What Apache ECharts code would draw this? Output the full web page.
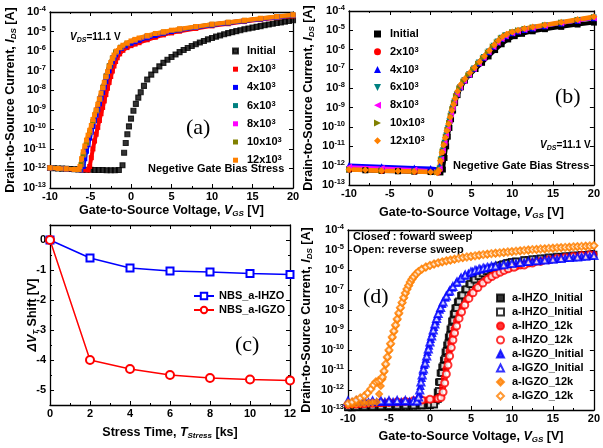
<!DOCTYPE html>
<html>
<head>
<meta charset="utf-8">
<script src="https://cdn.jsdelivr.net/npm/echarts@6/dist/echarts.min.js"></script>
<style>
  html, body { margin: 0; padding: 0; background: #fff; }
  #chart { width: 603px; height: 448px; }
</style>
</head>
<body>
<div id="chart"></div>
<script>
// values are [V_GS, log10(I_DS)]
// ---- panel (a) ----
const aInit = [[-10,-11.98],[-9.5,-11.99],[-9,-12.0],[-8.5,-12.01],[-8,-12.02],[-7.5,-12.03],[-7,-12.04],[-6.5,-12.05],[-6,-12.06],[-5.5,-12.07],[-5,-12.07],[-4.5,-12.08],[-4,-12.08],[-3.5,-12.08],[-3,-12.09],[-2.5,-12.09],[-2,-12.09],[-1.5,-12.08],[-1.05,-11.84],[-0.85,-11.2],[-0.65,-10.7],[-0.45,-10.25],[-0.25,-9.85],[0,-9.45],[0.3,-9.05],[0.6,-8.7],[0.9,-8.38],[1.2,-8.1],[1.6,-7.78],[2,-7.45],[2.5,-7.2],[3,-6.98],[3.5,-6.78],[4,-6.6],[4.5,-6.44],[5,-6.3],[5.5,-6.17],[6,-6.05],[6.5,-5.94],[7,-5.84],[7.5,-5.74],[8,-5.65],[8.5,-5.56],[9,-5.48],[9.5,-5.4],[10,-5.33],[10.5,-5.26],[11,-5.2],[11.5,-5.14],[12,-5.08],[12.5,-5.03],[13,-4.98],[13.5,-4.93],[14,-4.88],[14.5,-4.84],[15,-4.8],[15.5,-4.76],[16,-4.72],[16.5,-4.68],[17,-4.64],[17.5,-4.6],[18,-4.56],[18.5,-4.53],[19,-4.49],[19.5,-4.46],[20,-4.42]];
const a2k = [[-10,-11.97],[-8,-12.03],[-6,-12.07],[-5.3,-12.08],[-5.1,-11.9],[-4.9,-11.45],[-4.7,-11.0],[-4.5,-10.6],[-4.3,-10.25],[-4.1,-9.9],[-3.9,-9.55],[-3.7,-9.2],[-3.5,-8.88],[-3.3,-8.55],[-3.1,-8.22],[-2.9,-7.9],[-2.7,-7.6],[-2.5,-7.3],[-2.3,-7.02],[-2.1,-6.76],[-1.9,-6.53],[-1.7,-6.34],[-1.4,-6.14],[-1,-5.96],[-0.5,-5.82],[0,-5.72],[0.5,-5.64],[1,-5.57],[2,-5.42],[3,-5.29],[4,-5.17],[5,-5.07],[6,-4.98],[8,-4.84],[10,-4.71],[12,-4.6],[14,-4.49],[16,-4.39],[18,-4.29],[20,-4.2]];
const a4k = [[-10,-11.97],[-8,-12.03],[-6.2,-12.07],[-5.9,-11.9],[-5.7,-11.5],[-5.5,-11.12],[-5.3,-10.78],[-5.1,-10.45],[-4.9,-10.15],[-4.7,-9.85],[-4.5,-9.55],[-4.3,-9.27],[-4.1,-8.98],[-3.9,-8.7],[-3.7,-8.4],[-3.5,-8.12],[-3.3,-7.84],[-3.1,-7.56],[-2.9,-7.28],[-2.7,-7.01],[-2.5,-6.76],[-2.3,-6.54],[-2.1,-6.35],[-1.9,-6.19],[-1.6,-6.02],[-1.2,-5.86],[-0.7,-5.73],[0,-5.6],[0.5,-5.52],[1,-5.45],[2,-5.32],[3,-5.2],[4,-5.09],[5,-5.0],[6,-4.92],[8,-4.79],[10,-4.67],[12,-4.56],[14,-4.46],[16,-4.36],[18,-4.27],[20,-4.18]];
const a6k = [[-10,-11.97],[-8,-12.02],[-6.3,-12.06],[-6.05,-11.8],[-5.8,-11.3],[-5.4,-10.7],[-5.0,-10.15],[-4.6,-9.6],[-4.2,-9.05],[-3.8,-8.45],[-3.4,-7.85],[-3.0,-7.27],[-2.6,-6.75],[-2.2,-6.35],[-1.8,-6.06],[-1.2,-5.82],[-0.4,-5.62],[0.5,-5.46],[2,-5.26],[4,-5.06],[6,-4.9],[8,-4.77],[10,-4.65],[12,-4.55],[14,-4.45],[16,-4.35],[18,-4.26],[20,-4.17]];
const a8k = [[-10,-11.97],[-8,-12.02],[-6.35,-12.06],[-6.1,-11.8],[-5.85,-11.3],[-5.45,-10.7],[-5.05,-10.15],[-4.65,-9.6],[-4.25,-9.05],[-3.85,-8.45],[-3.45,-7.85],[-3.05,-7.27],[-2.65,-6.75],[-2.25,-6.35],[-1.85,-6.05],[-1.25,-5.81],[-0.45,-5.61],[0.5,-5.44],[2,-5.24],[4,-5.05],[6,-4.89],[8,-4.76],[10,-4.64],[12,-4.54],[14,-4.44],[16,-4.34],[18,-4.25],[20,-4.16]];
const a10k = [[-10,-11.97],[-8,-12.02],[-6.4,-12.06],[-6.15,-11.8],[-5.9,-11.3],[-5.5,-10.7],[-5.1,-10.15],[-4.7,-9.6],[-4.3,-9.05],[-3.9,-8.45],[-3.5,-7.85],[-3.1,-7.27],[-2.7,-6.75],[-2.3,-6.35],[-1.9,-6.04],[-1.3,-5.8],[-0.5,-5.6],[0.5,-5.42],[2,-5.22],[4,-5.03],[6,-4.88],[8,-4.75],[10,-4.63],[12,-4.53],[14,-4.43],[16,-4.33],[18,-4.24],[20,-4.15]];
const a12k = [[-10,-11.97],[-9,-12.0],[-8,-12.02],[-7,-12.05],[-6.5,-12.05],[-6.3,-11.9],[-6.1,-11.5],[-5.9,-11.15],[-5.7,-10.85],[-5.5,-10.55],[-5.3,-10.3],[-5.1,-10.05],[-4.9,-9.8],[-4.7,-9.5],[-4.5,-9.25],[-4.3,-9.0],[-4.1,-8.72],[-3.9,-8.45],[-3.7,-8.15],[-3.5,-7.88],[-3.3,-7.6],[-3.1,-7.32],[-2.9,-7.05],[-2.7,-6.8],[-2.5,-6.58],[-2.3,-6.38],[-2.1,-6.2],[-1.8,-6.0],[-1.4,-5.83],[-1,-5.7],[-0.5,-5.58],[0,-5.48],[0.5,-5.4],[1,-5.33],[2,-5.2],[3,-5.1],[4,-5.01],[5,-4.93],[6,-4.86],[8,-4.74],[10,-4.62],[12,-4.52],[14,-4.42],[16,-4.32],[18,-4.23],[20,-4.14]];

// ---- panel (b) ----
const bInit = [[-10,-12.2],[-8,-12.24],[-6,-12.27],[-4,-12.29],[-2,-12.31],[0,-12.33],[1.2,-12.35],[1.5,-12.2],[1.7,-11.6],[1.9,-11.0],[2.1,-10.5],[2.3,-10.05],[2.5,-9.6],[2.75,-9.15],[3,-8.75],[3.3,-8.35],[3.7,-7.95],[4.2,-7.6],[4.8,-7.3],[5.5,-7.0],[6.3,-6.68],[7.1,-6.35],[7.9,-6.02],[8.7,-5.72],[9.5,-5.47],[10.3,-5.3],[11.2,-5.18],[12.5,-5.05],[14,-4.94],[16,-4.82],[18,-4.7],[20,-4.6]];
const b2k = [[-10,-12.2],[-6,-12.26],[-2,-12.3],[0.9,-12.35],[1.1,-12.2],[1.3,-11.7],[1.5,-11.25],[1.7,-10.85],[1.9,-10.45],[2.1,-10.1],[2.3,-9.72],[2.5,-9.35],[2.7,-9.0],[2.9,-8.7],[3.2,-8.32],[3.6,-7.95],[4.1,-7.6],[4.7,-7.28],[5.3,-6.98],[5.9,-6.68],[6.5,-6.4],[7.1,-6.1],[7.7,-5.82],[8.2,-5.6],[8.7,-5.4],[9.2,-5.26],[10,-5.12],[10.7,-5.03],[11.5,-4.95],[12.5,-4.87],[14,-4.76],[16,-4.62],[18,-4.48],[20,-4.35]];
const b4k = [[-10,-11.97],[-6,-12.03],[-2,-12.09],[0,-12.12],[0.9,-12.16],[1.1,-12.0],[1.3,-11.6],[1.5,-11.2],[1.7,-10.8],[1.9,-10.42],[2.1,-10.05],[2.3,-9.68],[2.5,-9.32],[2.7,-8.98],[2.9,-8.68],[3.2,-8.3],[3.6,-7.94],[4.1,-7.6],[4.7,-7.28],[5.3,-6.99],[5.9,-6.7],[6.5,-6.42],[7.1,-6.13],[7.7,-5.85],[8.2,-5.63],[8.7,-5.44],[9.2,-5.3],[10,-5.15],[10.7,-5.06],[11.5,-4.98],[12.5,-4.9],[14,-4.79],[16,-4.65],[18,-4.51],[20,-4.38]];
const b6k = [[-10,-12.18],[-6,-12.24],[-2,-12.29],[0.9,-12.34],[1.1,-12.15],[1.3,-11.65],[1.5,-11.22],[1.7,-10.82],[1.9,-10.44],[2.1,-10.07],[2.3,-9.7],[2.5,-9.34],[2.7,-9.0],[2.9,-8.69],[3.2,-8.31],[3.6,-7.95],[4.1,-7.6],[4.7,-7.27],[5.3,-6.97],[5.9,-6.67],[6.5,-6.38],[7.1,-6.09],[7.7,-5.8],[8.2,-5.58],[8.7,-5.39],[9.2,-5.25],[10,-5.11],[10.7,-5.02],[11.5,-4.94],[12.5,-4.86],[14,-4.75],[16,-4.61],[18,-4.47],[20,-4.34]];
const b8k = [[-10,-12.05],[-6,-12.12],[-2,-12.2],[0.9,-12.28],[1.1,-12.15],[1.3,-11.65],[1.5,-11.22],[1.7,-10.82],[1.9,-10.44],[2.1,-10.07],[2.3,-9.7],[2.5,-9.34],[2.7,-9.0],[2.9,-8.69],[3.2,-8.31],[3.6,-7.95],[4.1,-7.62],[4.7,-7.3],[5.3,-7.0],[5.9,-6.71],[6.5,-6.43],[7.1,-6.14],[7.7,-5.86],[8.2,-5.64],[8.7,-5.45],[9.2,-5.3],[10,-5.15],[10.7,-5.05],[11.5,-4.97],[12.5,-4.89],[14,-4.78],[16,-4.64],[18,-4.5],[20,-4.37]];
const b10k = [[-10,-12.2],[-6,-12.26],[-2,-12.3],[0.85,-12.35],[1.05,-12.2],[1.25,-11.7],[1.45,-11.27],[1.65,-10.88],[1.85,-10.5],[2.05,-10.14],[2.25,-9.78],[2.45,-9.42],[2.65,-9.07],[2.85,-8.76],[3.1,-8.4],[3.5,-8.0],[4,-7.65],[4.6,-7.32],[5.2,-7.02],[5.8,-6.72],[6.4,-6.43],[7,-6.13],[7.6,-5.84],[8.1,-5.6],[8.6,-5.4],[9.1,-5.25],[10,-5.09],[10.7,-5.0],[11.5,-4.92],[12.5,-4.84],[14,-4.73],[16,-4.59],[18,-4.45],[20,-4.31]];
const b12k = [[-10,-12.2],[-8,-12.23],[-6,-12.26],[-4,-12.28],[-2,-12.3],[0,-12.33],[0.8,-12.36],[1,-12.25],[1.2,-11.75],[1.4,-11.3],[1.6,-10.93],[1.8,-10.55],[2,-10.2],[2.2,-9.85],[2.4,-9.5],[2.6,-9.15],[2.8,-8.83],[3,-8.53],[3.3,-8.15],[3.7,-7.8],[4.2,-7.5],[4.8,-7.2],[5.4,-6.92],[6,-6.62],[6.6,-6.33],[7.2,-6.04],[7.8,-5.75],[8.3,-5.52],[8.8,-5.33],[9.3,-5.2],[10,-5.08],[10.7,-4.99],[11.5,-4.91],[12.5,-4.83],[14,-4.72],[16,-4.58],[18,-4.44],[20,-4.3]];

// ---- panel (c) ----
const stressTime = [0, 2, 4, 6, 8, 10, 12];
const shiftIHZO = [0, -0.6, -0.93, -1.03, -1.07, -1.12, -1.15];
const shiftIGZO = [0, -4.0, -4.3, -4.5, -4.6, -4.65, -4.68];

// ---- panel (d) ----
const dIhzoInitF = [[-10,-12.88],[-9.5,-12.88],[-9,-12.87],[-8.5,-12.87],[-8,-12.86],[-7.5,-12.86],[-7,-12.85],[-6.5,-12.85],[-6,-12.84],[-5.5,-12.84],[-5,-12.83],[-4.5,-12.83],[-4,-12.82],[-3.5,-12.82],[-3,-12.81],[-2.5,-12.81],[-2,-12.8],[-1.5,-12.8],[-1,-12.79],[-0.5,-12.78],[0,-12.77],[0.5,-12.72],[0.75,-12.55],[0.9,-12.1],[1.05,-11.6],[1.25,-11.15],[1.45,-10.85],[1.65,-10.5],[1.85,-10.1],[2.05,-9.75],[2.25,-9.35],[2.45,-8.95],[2.65,-8.55],[2.85,-8.2],[3.05,-7.9],[3.35,-7.6],[3.75,-7.28],[4.25,-6.98],[4.75,-6.72],[5.25,-6.5],[5.75,-6.32],[6.25,-6.18],[6.75,-6.07],[7.25,-5.97],[7.75,-5.88],[8.25,-5.8],[8.75,-5.73],[9.25,-5.67],[9.75,-5.62],[10.5,-5.56],[11.5,-5.5],[12,-5.49],[13,-5.44],[14,-5.4],[15,-5.36],[16,-5.33],[17,-5.3],[18,-5.27],[19,-5.24],[20,-5.22]];
const dIhzoInitR = [[-10,-12.85],[-9,-12.84],[-8,-12.83],[-7,-12.82],[-6,-12.81],[-5,-12.8],[-4,-12.79],[-3,-12.78],[-2,-12.77],[-1,-12.76],[0,-12.74],[0.5,-12.72],[0.95,-12.45],[1.1,-12.05],[1.25,-11.6],[1.45,-11.15],[1.65,-10.8],[1.85,-10.45],[2.05,-10.05],[2.25,-9.68],[2.45,-9.28],[2.65,-8.9],[2.85,-8.52],[3.05,-8.18],[3.25,-7.9],[3.55,-7.58],[3.95,-7.26],[4.45,-6.96],[4.95,-6.7],[5.45,-6.48],[5.95,-6.3],[6.45,-6.16],[6.95,-6.05],[7.45,-5.95],[7.95,-5.86],[8.45,-5.78],[8.95,-5.71],[9.45,-5.65],[10,-5.6],[10.5,-5.58],[11.5,-5.51],[12.5,-5.46],[13.5,-5.42],[14.5,-5.38],[15.5,-5.34],[16.5,-5.31],[17.5,-5.28],[18.5,-5.25],[19.5,-5.23]];
const dIhzo12kF = [[-10,-12.75],[-9.5,-12.74],[-9,-12.73],[-8.5,-12.72],[-8,-12.71],[-7.5,-12.7],[-7,-12.69],[-6.5,-12.68],[-6,-12.67],[-5.5,-12.66],[-5,-12.65],[-4.5,-12.64],[-4,-12.62],[-3.5,-12.61],[-3,-12.6],[-2.5,-12.58],[-2,-12.56],[-1.5,-12.54],[-1,-12.52],[-0.5,-12.5],[0,-12.48],[0.5,-12.46],[1,-12.44],[1.2,-12.4],[1.35,-12.3],[1.55,-11.85],[1.75,-11.4],[1.95,-10.95],[2.15,-10.5],[2.35,-10.05],[2.55,-9.65],[2.75,-9.28],[2.95,-8.95],[3.25,-8.55],[3.55,-8.2],[3.95,-7.85],[4.45,-7.5],[4.95,-7.2],[5.55,-6.93],[6.15,-6.7],[6.75,-6.5],[7.25,-6.37],[7.75,-6.25],[8.25,-6.15],[8.75,-6.06],[9.25,-5.98],[9.75,-5.91],[10.5,-5.85],[11,-5.8],[12,-5.7],[13,-5.61],[14,-5.53],[15,-5.46],[16,-5.4],[17,-5.35],[18,-5.3],[19,-5.26],[20,-5.22]];
const dIhzo12kR = [[-10,-12.72],[-9,-12.7],[-8,-12.68],[-7,-12.66],[-6,-12.64],[-5,-12.62],[-4,-12.6],[-3,-12.57],[-2,-12.54],[-1,-12.5],[0,-12.46],[1,-12.42],[1.35,-12.38],[1.6,-12.1],[1.8,-11.65],[2,-11.2],[2.2,-10.75],[2.4,-10.3],[2.6,-9.88],[2.8,-9.5],[3,-9.15],[3.25,-8.8],[3.55,-8.42],[3.85,-8.1],[4.25,-7.75],[4.75,-7.42],[5.25,-7.14],[5.85,-6.88],[6.45,-6.65],[7.05,-6.46],[7.55,-6.33],[8.05,-6.21],[8.55,-6.11],[9.05,-6.02],[9.55,-5.94],[10.25,-5.86],[11.5,-5.75],[12.5,-5.65],[13.5,-5.57],[14.5,-5.49],[15.5,-5.43],[16.5,-5.37],[17.5,-5.32],[18.5,-5.28],[19.5,-5.24]];
const dIgzoInitF = [[-10,-12.6],[-9.5,-12.6],[-9,-12.6],[-8.5,-12.6],[-8,-12.6],[-7.5,-12.59],[-7,-12.59],[-6.5,-12.59],[-6,-12.59],[-5.5,-12.58],[-5,-12.58],[-4.5,-12.58],[-4,-12.58],[-3.5,-12.57],[-3,-12.57],[-2.5,-12.56],[-2,-12.56],[-1.5,-12.5],[-1.3,-12.2],[-1.15,-11.8],[-1,-11.4],[-0.85,-11.05],[-0.7,-10.75],[-0.5,-10.45],[-0.3,-10.1],[-0.1,-9.78],[0.1,-9.45],[0.3,-9.15],[0.5,-8.85],[0.7,-8.56],[0.9,-8.3],[1.2,-7.98],[1.5,-7.7],[1.9,-7.38],[2.3,-7.1],[2.7,-6.88],[3.2,-6.64],[3.7,-6.44],[4.2,-6.28],[4.7,-6.16],[5.2,-6.07],[5.7,-6.0],[6.2,-5.95],[6.7,-5.9],[7.2,-5.86],[7.7,-5.82],[8.5,-5.77],[9.5,-5.71],[10.5,-5.65],[11.5,-5.6],[12.5,-5.56],[13.5,-5.52],[14.5,-5.48],[15.5,-5.44],[16.5,-5.4],[17.5,-5.37],[18.5,-5.33],[19.5,-5.3]];
const dIgzoInitR = [[-10,-12.55],[-9,-12.55],[-8,-12.55],[-7,-12.55],[-6,-12.54],[-5,-12.54],[-4,-12.53],[-3,-12.53],[-2,-12.54],[-1.6,-12.55],[-1.4,-12.35],[-1.25,-12.0],[-1.1,-11.6],[-0.95,-11.25],[-0.8,-10.95],[-0.6,-10.65],[-0.4,-10.3],[-0.2,-9.95],[0,-9.6],[0.2,-9.3],[0.4,-9.0],[0.6,-8.7],[0.8,-8.42],[1,-8.18],[1.3,-7.88],[1.6,-7.6],[2,-7.3],[2.4,-7.05],[2.8,-6.83],[3.3,-6.6],[3.8,-6.4],[4.3,-6.25],[5,-6.1],[5.5,-6.02],[6,-5.96],[6.5,-5.91],[7,-5.87],[7.5,-5.83],[8,-5.8],[9,-5.74],[10,-5.68],[11,-5.63],[12,-5.58],[13,-5.54],[14,-5.5],[15,-5.46],[16,-5.42],[17,-5.38],[18,-5.35],[19,-5.31],[20,-5.28]];
const dIgzo12kF = [[-10,-12.72],[-9.5,-12.72],[-9,-12.7],[-8.5,-12.68],[-8,-12.66],[-7.5,-12.65],[-7,-12.63],[-6.5,-12.6],[-6.2,-12.2],[-6,-11.8],[-5.8,-11.45],[-5.6,-11.1],[-5.4,-10.75],[-5.2,-10.4],[-5,-10.05],[-4.8,-9.72],[-4.6,-9.4],[-4.4,-9.1],[-4.2,-8.8],[-4,-8.5],[-3.8,-8.2],[-3.6,-7.92],[-3.4,-7.66],[-3.2,-7.42],[-3,-7.19],[-2.8,-6.98],[-2.6,-6.8],[-2.4,-6.63],[-2.2,-6.48],[-2,-6.36],[-1.7,-6.21],[-1.4,-6.09],[-1,-5.97],[-0.5,-5.86],[0,-5.78],[0.5,-5.71],[1,-5.65],[1.5,-5.6],[2,-5.55],[2.5,-5.51],[3,-5.47],[4,-5.39],[5,-5.33],[6,-5.27],[7,-5.22],[8,-5.17],[9,-5.13],[10,-5.09],[11,-5.05],[12,-5.01],[13,-4.98],[14,-4.95],[15,-4.92],[16,-4.89],[17,-4.87],[18,-4.84],[19,-4.82],[20,-4.79]];
const dIgzo12kR = [[-10,-12.67],[-9.5,-12.6],[-9,-12.5],[-8.5,-12.4],[-8,-12.3],[-7.6,-12.15],[-7.2,-11.95],[-6.9,-11.75],[-6.6,-11.6],[-6.3,-11.55],[-6,-11.5],[-5.8,-11.35],[-5.6,-11.05],[-5.4,-10.7],[-5.2,-10.35],[-5,-10.0],[-4.8,-9.68],[-4.6,-9.35],[-4.4,-9.05],[-4.2,-8.75],[-4,-8.45],[-3.8,-8.15],[-3.6,-7.88],[-3.4,-7.62],[-3.2,-7.38],[-3,-7.15],[-2.8,-6.95],[-2.6,-6.77],[-2.4,-6.6],[-2.2,-6.46],[-2,-6.34],[-1.7,-6.2],[-1.4,-6.08],[-1,-5.96],[-0.5,-5.85],[0,-5.77],[0.5,-5.7],[1,-5.64],[1.5,-5.59],[2,-5.54],[2.5,-5.5],[3,-5.46],[3.5,-5.42],[4,-5.38],[4.5,-5.35],[5,-5.32],[5.5,-5.29],[6,-5.26],[6.5,-5.23],[7,-5.21],[7.5,-5.18],[8,-5.16],[8.5,-5.14],[9,-5.12],[9.5,-5.1],[10,-5.08],[10.5,-5.06],[11,-5.04],[11.5,-5.02],[12,-5.0],[12.5,-4.98],[13,-4.97],[13.5,-4.95],[14,-4.94],[14.5,-4.92],[15,-4.91],[15.5,-4.89],[16,-4.88],[16.5,-4.87],[17,-4.86],[17.5,-4.84],[18,-4.83],[18.5,-4.82],[19,-4.81],[19.5,-4.8],[20,-4.78]];

const FONT = 'Liberation Sans, Arial, sans-serif';

const chart = echarts.init(document.getElementById('chart'), null, { renderer: 'canvas' });

function pts(arr) { return arr.map(p => [p[0], Math.pow(10, p[1])]); }

const grids = [
  { left: 50, top: 12, width: 243, height: 176 },
  { left: 349, top: 11, width: 248, height: 174 },
  { left: 50, top: 225, width: 240, height: 180 },
  { left: 348, top: 230, width: 249, height: 180 }
];

const nameStyle = {
  fontFamily: FONT, fontSize: 12.5, fontWeight: 'bold', color: '#000', lineHeight: 15,
  rich: {
    i: { fontFamily: FONT, fontStyle: 'italic', fontWeight: 'bold', fontSize: 12.5, lineHeight: 15 },
    b: { fontFamily: FONT, fontStyle: 'italic', fontWeight: 'bold', fontSize: 8, verticalAlign: 'bottom', lineHeight: 9 }
  }
};
const tickLab = { fontFamily: FONT, fontSize: 11, fontWeight: 'bold', color: '#000' };
const frameLine = { show: true, onZero: false, lineStyle: { color: '#000', width: 1.3 } };
const tickIn = { show: true, inside: true, length: 4, lineStyle: { color: '#000', width: 1 } };
const minorIn = { show: true, splitNumber: 2, length: 2, lineStyle: { color: '#000', width: 1 } };

function vgsX(g, name, gap) {
  return {
    type: 'value', gridIndex: g, min: -10, max: 20, interval: 5,
    axisLine: frameLine, axisTick: tickIn, minorTick: minorIn, splitLine: { show: false },
    axisLabel: Object.assign({ margin: 3 }, tickLab),
    name: name, nameLocation: 'middle', nameGap: gap, nameMoveOverlap: false, nameTextStyle: nameStyle
  };
}
function topX(g, min, max, interval) {
  return {
    type: 'value', gridIndex: g, position: 'top', min: min, max: max, interval: interval,
    axisLine: frameLine, axisTick: tickIn, minorTick: minorIn, splitLine: { show: false },
    axisLabel: { show: false }
  };
}
function logY(g, name, gap) {
  return {
    type: 'log', logBase: 10, gridIndex: g, min: 1e-13, max: 1e-4,
    axisLine: frameLine, axisTick: tickIn, splitLine: { show: false },
    axisLabel: Object.assign({
      margin: 4, lineHeight: 14,
      formatter: v => '10{s|' + Math.round(Math.log10(v)) + '}',
      rich: { s: { fontFamily: FONT, fontSize: 7.5, fontWeight: 'bold', color: '#000', verticalAlign: 'top', lineHeight: 8 } }
    }, tickLab),
    name: name, nameLocation: 'middle', nameRotate: 90, nameGap: gap, nameMoveOverlap: false, nameTextStyle: nameStyle
  };
}
function rightLog(g) {
  return {
    type: 'log', logBase: 10, gridIndex: g, position: 'right', min: 1e-13, max: 1e-4,
    axisLine: frameLine, axisTick: tickIn, splitLine: { show: false }, axisLabel: { show: false }
  };
}

const idsName = 'Drain-to-Source Current, {i|I}{b|DS} [A]';
const vgsName = 'Gate-to-Source Voltage, {i|V}{b|GS} [V]';

const xAxes = [
  vgsX(0, vgsName, 15),
  vgsX(1, vgsName, 20),
  {
    type: 'value', gridIndex: 2, min: 0, max: 12, interval: 2,
    axisLine: frameLine, axisTick: tickIn, minorTick: minorIn, splitLine: { show: false },
    axisLabel: Object.assign({ margin: 3 }, tickLab),
    name: 'Stress Time, {i|T}{b|Stress} [ks]', nameLocation: 'middle', nameGap: 20, nameMoveOverlap: false, nameTextStyle: nameStyle
  },
  vgsX(3, vgsName, 19),
  topX(0, -10, 20, 5), topX(1, -10, 20, 5), topX(2, 0, 12, 2), topX(3, -10, 20, 5)
];
const yAxes = [
  logY(0, idsName, 32),
  logY(1, idsName, 33),
  {
    type: 'value', gridIndex: 2, min: -5.5, max: 0.5,
    axisLine: frameLine, axisTick: tickIn, minorTick: minorIn, splitLine: { show: false },
    axisLabel: Object.assign({ margin: 4, showMinLabel: false, showMaxLabel: false }, tickLab),
    name: '{d|Δ}{i|V}{b|T} Shift [V]', nameLocation: 'middle', nameRotate: 90, nameGap: 10, nameMoveOverlap: false,
    nameTextStyle: Object.assign({}, nameStyle, {
      rich: Object.assign({ d: { fontFamily: FONT, fontStyle: 'italic', fontWeight: 'bold', fontSize: 12.5, lineHeight: 15 } }, nameStyle.rich)
    })
  },
  logY(3, idsName, 34),
  rightLog(0), rightLog(1),
  {
    type: 'value', gridIndex: 2, position: 'right', min: -5.5, max: 0.5,
    axisLine: frameLine, axisTick: tickIn, minorTick: minorIn, splitLine: { show: false }, axisLabel: { show: false }
  },
  rightLog(3)
];

const symDown = 'path://M0,0 L10,0 L5,10 Z';
const symLeft = 'path://M10,0 L10,10 L0,5 Z';
const symRight = 'path://M0,0 L10,5 L0,10 Z';

function bandSeries(name, arr, g, color, symbol, size, lineW) {
  return {
    name: name, type: 'line', xAxisIndex: g, yAxisIndex: g, data: pts(arr),
    symbol: symbol, symbolSize: size, showAllSymbol: true, silent: true,
    lineStyle: { color: color, width: lineW }, itemStyle: { color: color }
  };
}
function dotSeries(name, arr, g, color, symbol, size) {
  return {
    name: name, type: 'scatter', xAxisIndex: g, yAxisIndex: g, data: pts(arr),
    symbol: symbol, symbolSize: size, silent: true,
    itemStyle: { color: color, borderColor: color, borderWidth: 1.1 }
  };
}

const cRed = '#ff0000', cBlue = '#0000ff', cTeal = '#008080', cMag = '#ff00ff', cOlive = '#808000', cOrange = '#ff8000';

const series = [
  dotSeries('aInit', aInit, 0, '#000', 'rect', 5),
  bandSeries('a2', a2k, 0, cRed, 'rect', 5, 4),
  bandSeries('a4', a4k, 0, cBlue, 'rect', 5, 4),
  bandSeries('a6', a6k, 0, cTeal, 'rect', 5, 4),
  bandSeries('a8', a8k, 0, cMag, 'rect', 5, 4),
  bandSeries('a10', a10k, 0, cOlive, 'rect', 5, 4),
  bandSeries('a12', a12k, 0, cOrange, 'rect', 5, 4),

  bandSeries('bInit', bInit, 1, '#000', 'rect', 6, 4),
  bandSeries('b2', b2k, 1, cRed, 'circle', 6, 4),
  bandSeries('b4', b4k, 1, cBlue, 'triangle', 6, 3),
  bandSeries('b6', b6k, 1, cTeal, symDown, 6, 4),
  bandSeries('b8', b8k, 1, cMag, symLeft, 6, 3),
  bandSeries('b10', b10k, 1, cOlive, symRight, 6, 4),
  bandSeries('b12', b12k, 1, cOrange, 'diamond', 7, 4.5),

  {
    name: 'cIHZO', type: 'line', xAxisIndex: 2, yAxisIndex: 2, silent: true,
    data: stressTime.map((t, i) => [t, shiftIHZO[i]]),
    symbol: 'emptyRect', symbolSize: 7, lineStyle: { color: cBlue, width: 1.5 },
    itemStyle: { color: cBlue, borderWidth: 1.3 }
  },
  {
    name: 'cIGZO', type: 'line', xAxisIndex: 2, yAxisIndex: 2, silent: true,
    data: stressTime.map((t, i) => [t, shiftIGZO[i]]),
    symbol: 'emptyCircle', symbolSize: 8, lineStyle: { color: cRed, width: 1.5 },
    itemStyle: { color: cRed, borderWidth: 1.3 }
  },

  dotSeries('d1', dIhzoInitF, 3, '#000', 'rect', 6),
  dotSeries('d2', dIhzoInitR, 3, '#000', 'emptyRect', 6),
  dotSeries('d3', dIhzo12kF, 3, cRed, 'circle', 6),
  dotSeries('d4', dIhzo12kR, 3, cRed, 'emptyCircle', 7),
  dotSeries('d5', dIgzoInitF, 3, cBlue, 'triangle', 7),
  dotSeries('d6', dIgzoInitR, 3, cBlue, 'emptyTriangle', 7),
  dotSeries('d7', dIgzo12kF, 3, cOrange, 'diamond', 7),
  dotSeries('d8', dIgzo12kR, 3, cOrange, 'emptyDiamond', 7)
];

const LABELS = {
  aInit: 'Initial', a2: '2x10{s|3}', a4: '4x10{s|3}', a6: '6x10{s|3}', a8: '8x10{s|3}', a10: '10x10{s|3}', a12: '12x10{s|3}',
  bInit: 'Initial', b2: '2x10{s|3}', b4: '4x10{s|3}', b6: '6x10{s|3}', b8: '8x10{s|3}', b10: '10x10{s|3}', b12: '12x10{s|3}',
  cIHZO: 'NBS_a-IHZO', cIGZO: 'NBS_a-IGZO',
  d1: 'a-IHZO_Initial', d2: 'a-IHZO_Initial', d3: 'a-IHZO_12k', d4: 'a-IHZO_12k',
  d5: 'a-IGZO_Initial', d6: 'a-IGZO_Initial', d7: 'a-IGZO_12k', d8: 'a-IGZO_12k'
};
function legText(pad) {
  return {
    fontFamily: FONT, fontSize: 11, fontWeight: 'bold', color: '#000', lineHeight: 12, padding: [0, 0, 0, pad],
    rich: { s: { fontFamily: FONT, fontSize: 7.5, fontWeight: 'bold', color: '#000', verticalAlign: 'top', lineHeight: 6 } }
  };
}
function legend(names, left, top, gap, w, h, icons, pad) {
  return {
    orient: 'vertical', left: left, top: top, itemGap: gap, itemWidth: w, itemHeight: h, padding: 0,
    selectedMode: false, formatter: n => LABELS[n], textStyle: legText(pad),
    data: names.map((n, i) => icons ? { name: n, icon: icons[i] } : n)
  };
}

const legends = [
  legend(['aInit', 'a2', 'a4', 'a6', 'a8', 'a10', 'a12'], 232, 45, 6.2, 5, 5,
    ['rect', 'rect', 'rect', 'rect', 'rect', 'rect', 'rect'], 4),
  legend(['bInit', 'b2', 'b4', 'b6', 'b8', 'b10', 'b12'], 374, 28, 5.8, 7, 7,
    ['rect', 'circle', 'triangle', symDown, symLeft, symRight, 'diamond'], 4),
  legend(['cIHZO', 'cIGZO'], 193, 290, 2, 20, 8, null, 0),
  legend(['d1', 'd2', 'd3', 'd4', 'd5', 'd6', 'd7', 'd8'], 496, 292, 2, 7, 7, null, 3)
];

function note(x, y, text, size) {
  return {
    type: 'text', x: x, y: y, silent: true,
    style: {
      text: text, fontFamily: FONT, fontSize: size, fontWeight: 'bold', fill: '#000',
      verticalAlign: 'middle', lineHeight: 14,
      rich: {
        i: { fontFamily: FONT, fontSize: size, fontWeight: 'bold', fontStyle: 'italic', fill: '#000', lineHeight: 14 },
        b: { fontFamily: FONT, fontSize: 7, fontWeight: 'bold', fontStyle: 'italic', fill: '#000', verticalAlign: 'bottom', lineHeight: 8 }
      }
    }
  };
}
function panelTag(x, y, text) {
  return {
    type: 'text', x: x, y: y, silent: true,
    style: { text: text, fontFamily: 'Liberation Serif, Times New Roman, serif', fontSize: 22, fill: '#000', verticalAlign: 'middle' }
  };
}

chart.setOption({
  animation: false,
  textStyle: { fontFamily: FONT },
  grid: grids,
  xAxis: xAxes,
  yAxis: yAxes,
  legend: legends,
  series: series,
  graphic: [
    note(70, 37, '{i|V}{b|DS}=11.1 V', 10),
    note(148, 169, 'Negetive Gate Bias Stress', 11),
    panelTag(186, 128, '(a)'),
    note(540, 145, '{i|V}{b|DS}=11.1 V', 10),
    note(453, 166, 'Negetive Gate Bias Stress', 11),
    panelTag(555, 97, '(b)'),
    panelTag(235, 345, '(c)'),
    note(353, 237, 'Closed : foward sweep', 11),
    note(353, 250, 'Open: reverse sweep', 11),
    panelTag(363, 297, '(d)')
  ]
});
</script>
</body>
</html>
